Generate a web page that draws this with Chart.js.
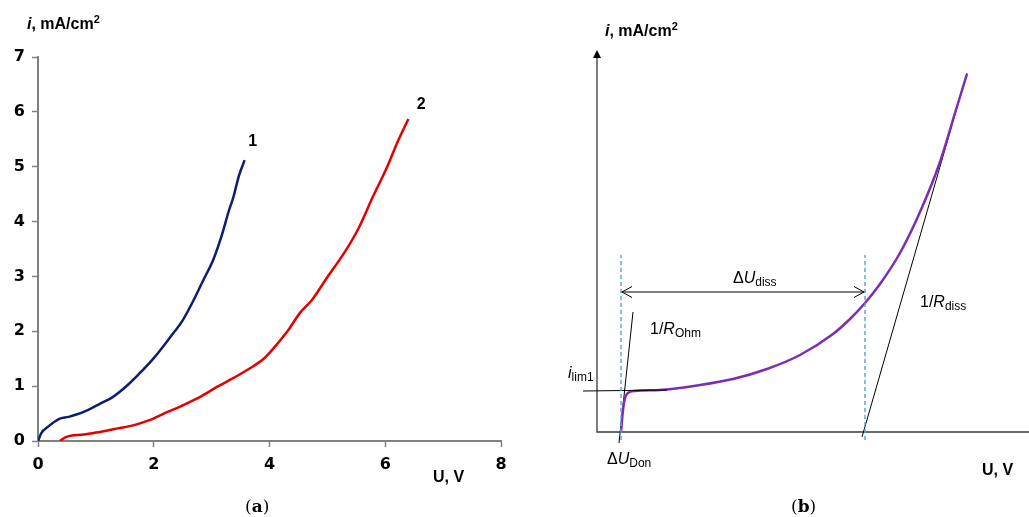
<!DOCTYPE html>
<html>
<head>
<meta charset="utf-8">
<script src="https://cdn.jsdelivr.net/npm/chart.js@4.4.1/dist/chart.umd.min.js"></script>
<style>
  html, body { margin: 0; padding: 0; background: #fff; }
  #wrap { position: relative; width: 1029px; height: 517px; overflow: hidden; }
  canvas { position: absolute; top: 0; }
  #chartA { left: 0; }
  #chartB { left: 520px; }
</style>
</head>
<body>
<div id="wrap">
  <canvas id="chartA" width="520" height="517" style="width:520px;height:517px"></canvas>
  <canvas id="chartB" width="509" height="517" style="width:509px;height:517px"></canvas>
</div>
<script>
// (a) measured i-U curves
const uCurve1 = [0, 0.06, 0.16, 0.36, 0.53, 0.79, 1.09, 1.29, 1.55, 1.78, 2.0, 2.29, 2.5, 2.69, 2.86, 3.03, 3.19, 3.29, 3.38, 3.47, 3.57];
const iCurve1 = [0, 0.15, 0.25, 0.4, 0.44, 0.53, 0.69, 0.8, 1.02, 1.26, 1.51, 1.9, 2.2, 2.57, 2.94, 3.31, 3.8, 4.17, 4.46, 4.83, 5.12];
const uCurve2 = [0.38, 0.48, 0.79, 1.09, 1.38, 1.66, 1.9, 2.24, 2.52, 2.81, 3.1, 3.38, 3.67, 3.9, 4.02, 4.31, 4.53, 4.74, 4.97, 5.31, 5.53, 5.79, 6.03, 6.22, 6.4];
const iCurve2 = [0, 0.07, 0.12, 0.17, 0.23, 0.29, 0.37, 0.53, 0.66, 0.81, 0.99, 1.15, 1.33, 1.5, 1.63, 2.0, 2.34, 2.58, 2.94, 3.46, 3.86, 4.46, 4.99, 5.47, 5.87];
const curveNames = ['1', '2'];
const curveLabelU = [3.71, 6.62];
const curveLabelI = [5.45, 6.14];

// (b) schematic curve, arbitrary units
const uSketch = [6, 6.5, 7, 7.75, 9.5, 15.75, 25.75, 34, 42.5, 50.75, 59, 63.25, 67, 70.75, 75.75, 80.75, 85.75, 89.5, 92.5];
const iSketch = [0, 5.5, 8.5, 9.75, 10.25, 10.5, 11.75, 13.25, 15.75, 19.25, 24.5, 28.25, 32.25, 37, 44.75, 55, 67.5, 79.75, 89.5];
const ohmLineU = [5.5, 9];
const ohmLineI = [-2.75, 30];
const limLineU = [-3.5, 17.5];
const limLineI = [10.25, 10.5];
const dissLineU = [66.25, 92.5];
const dissLineI = [-1.25, 89.75];
const markU = [6, 67];          // ΔU_Don and end of ΔU_diss
const markI = [-2, 44.25];      // extent of the dashed guides
const dimLevel = 35;            // height of the ΔU_diss arrow

const pts = (xs, ys) => xs.map((x, k) => ({ x: x, y: ys[k] }));
const SANS = '"Liberation Sans", Arial, sans-serif';
const SERIF = '"DejaVu Serif", serif';

function drawRich(ctx, x, y, parts) {
    let cx = x;
    parts.forEach(p => {
        ctx.font = p.font;
        ctx.fillText(p.text, cx, y + (p.dy || 0));
        cx += ctx.measureText(p.text).width;
    });
}

function unitTitle(ctx, x, y) {
    drawRich(ctx, x, y, [
        { text: 'i', font: 'italic bold 16px ' + SANS },
        { text: ', mA/cm', font: 'bold 16px ' + SANS },
        { text: '2', font: 'bold 11px ' + SANS, dy: -6 }
    ]);
}

// ---------- panel (a) ----------
const labelsA = {
    id: 'labelsA',
    afterDraw(chart) {
        const ctx = chart.ctx;
        const sx = chart.scales.x, sy = chart.scales.y;
        ctx.save();
        ctx.fillStyle = '#000';
        ctx.textBaseline = 'middle';
        ctx.textAlign = 'center';
        ctx.font = 'bold 16px ' + SANS;
        curveNames.forEach((n, k) => {
            ctx.fillText(n, sx.getPixelForValue(curveLabelU[k]), sy.getPixelForValue(curveLabelI[k]));
        });
        ctx.textAlign = 'left';
        ctx.textBaseline = 'alphabetic';
        unitTitle(ctx, 27, 29);
        ctx.font = 'bold 16px ' + SANS;
        ctx.fillText('U, V', 433, 482);
        drawRich(ctx, 245, 512, [
            { text: '(', font: '17px ' + SERIF },
            { text: 'a', font: 'bold 17px ' + SERIF },
            { text: ')', font: '17px ' + SERIF }
        ]);
        ctx.restore();
    }
};

const tickFont = { family: '"DejaVu Sans", sans-serif', weight: 'bold', size: 16 };

new Chart(document.getElementById('chartA'), {
    type: 'line',
    data: {
        datasets: [
            {
                data: pts(uCurve1, iCurve1),
                borderColor: '#0B1F6E',
                borderWidth: 2.5,
                pointRadius: 0,
                cubicInterpolationMode: 'monotone'
            },
            {
                data: pts(uCurve2, iCurve2),
                borderColor: '#E50000',
                borderWidth: 2.5,
                pointRadius: 0,
                cubicInterpolationMode: 'monotone'
            }
        ]
    },
    options: {
        responsive: false,
        animation: false,
        layout: { padding: { top: 57, right: 19, bottom: 0, left: 0 } },
        plugins: { legend: { display: false }, tooltip: { enabled: false } },
        scales: {
            x: {
                type: 'linear',
                min: 0,
                max: 8,
                ticks: { stepSize: 2, color: '#000', font: tickFont, padding: 8 },
                grid: { drawOnChartArea: false, tickLength: 6, tickColor: '#808080', tickWidth: 1.5 },
                border: { color: '#808080', width: 2 },
                afterFit: s => { s.height = 76; }
            },
            y: {
                min: 0,
                max: 7,
                ticks: { stepSize: 1, color: '#000', font: tickFont, padding: 7 },
                grid: { drawOnChartArea: false, tickLength: 6, tickColor: '#808080', tickWidth: 1.5 },
                border: { color: '#808080', width: 2 },
                afterFit: s => { s.width = 38; }
            }
        }
    },
    plugins: [labelsA]
});

// ---------- panel (b) ----------
const sketchB = {
    id: 'sketchB',
    beforeDatasetsDraw(chart) {
        const ctx = chart.ctx;
        const sx = chart.scales.x, sy = chart.scales.y;
        const x0 = sx.getPixelForValue(0), y0 = sy.getPixelForValue(0);
        const yTop = sy.getPixelForValue(sy.max);
        ctx.save();
        ctx.strokeStyle = '#3a3a3a';
        ctx.lineWidth = 1.3;
        ctx.beginPath();
        ctx.moveTo(x0, yTop + 6);
        ctx.lineTo(x0, y0);
        ctx.lineTo(sx.getPixelForValue(sx.max), y0);
        ctx.stroke();
        ctx.fillStyle = '#000';
        ctx.beginPath();
        ctx.moveTo(x0, yTop);
        ctx.lineTo(x0 - 4, yTop + 8);
        ctx.lineTo(x0 + 4, yTop + 8);
        ctx.closePath();
        ctx.fill();
        ctx.restore();
    },
    afterDatasetsDraw(chart) {
        const ctx = chart.ctx;
        const sx = chart.scales.x, sy = chart.scales.y;
        const ya = sy.getPixelForValue(dimLevel);
        const xl = sx.getPixelForValue(markU[0]), xr = sx.getPixelForValue(markU[1]);
        ctx.save();
        ctx.strokeStyle = '#000';
        ctx.lineWidth = 1;
        ctx.beginPath();
        ctx.moveTo(xl + 11, ya - 5.5); ctx.lineTo(xl + 1, ya); ctx.lineTo(xl + 11, ya + 5.5);
        ctx.moveTo(xr - 11, ya - 5.5); ctx.lineTo(xr - 1, ya); ctx.lineTo(xr - 11, ya + 5.5);
        ctx.stroke();

        // annotations, page x minus the canvas offset
        const ox = -520;
        ctx.fillStyle = '#000';
        ctx.textBaseline = 'alphabetic';
        ctx.textAlign = 'left';
        const n16 = '16px ' + SANS, i16 = 'italic 16px ' + SANS, sub = '12px ' + SANS;
        unitTitle(ctx, 605 + ox, 36);
        ctx.font = 'bold 16px ' + SANS;
        ctx.fillText('U, V', 982 + ox, 475);
        drawRich(ctx, 733 + ox, 283, [
            { text: 'Δ', font: n16 }, { text: 'U', font: i16 }, { text: 'diss', font: sub, dy: 3 }
        ]);
        drawRich(ctx, 650 + ox, 334, [
            { text: '1/', font: n16 }, { text: 'R', font: i16 }, { text: 'Ohm', font: sub, dy: 3 }
        ]);
        drawRich(ctx, 920 + ox, 307, [
            { text: '1/', font: n16 }, { text: 'R', font: i16 }, { text: 'diss', font: sub, dy: 3 }
        ]);
        drawRich(ctx, 568 + ox, 378, [
            { text: 'i', font: i16 }, { text: 'lim1', font: sub, dy: 3 }
        ]);
        drawRich(ctx, 607 + ox, 464, [
            { text: 'Δ', font: n16 }, { text: 'U', font: i16 }, { text: 'Don', font: sub, dy: 3 }
        ]);
        drawRich(ctx, 791 + ox, 512, [
            { text: '(', font: '17px ' + SERIF },
            { text: 'b', font: 'bold 17px ' + SERIF },
            { text: ')', font: '17px ' + SERIF }
        ]);
        ctx.restore();
    }
};

const thin = { borderColor: '#000', borderWidth: 1, pointRadius: 0, tension: 0 };
const dashed = { borderColor: '#4DA2DA', borderWidth: 1.4, borderDash: [4, 3], pointRadius: 0, tension: 0 };

new Chart(document.getElementById('chartB'), {
    type: 'line',
    data: {
        datasets: [
            Object.assign({ data: pts([markU[0], markU[0]], markI) }, dashed),
            Object.assign({ data: pts([markU[1], markU[1]], markI) }, dashed),
            Object.assign({ data: pts(limLineU, limLineI) }, thin),
            {
                data: pts(uSketch, iSketch),
                borderColor: '#7B2DB3',
                borderWidth: 2.5,
                pointRadius: 0,
                cubicInterpolationMode: 'monotone'
            },
            Object.assign({ data: pts(ohmLineU, ohmLineI) }, thin),
            Object.assign({ data: pts(dissLineU, dissLineI) }, thin),
            Object.assign({ data: pts(markU, [dimLevel, dimLevel]) }, thin)
        ]
    },
    options: {
        responsive: false,
        animation: false,
        layout: { padding: { top: 50, right: 0, bottom: 45, left: 37 } },
        plugins: { legend: { display: false }, tooltip: { enabled: false } },
        scales: {
            x: { type: 'linear', min: -10, max: 108, display: false },
            y: { min: -10, max: 95.5, display: false }
        }
    },
    plugins: [sketchB]
});
</script>
</body>
</html>
